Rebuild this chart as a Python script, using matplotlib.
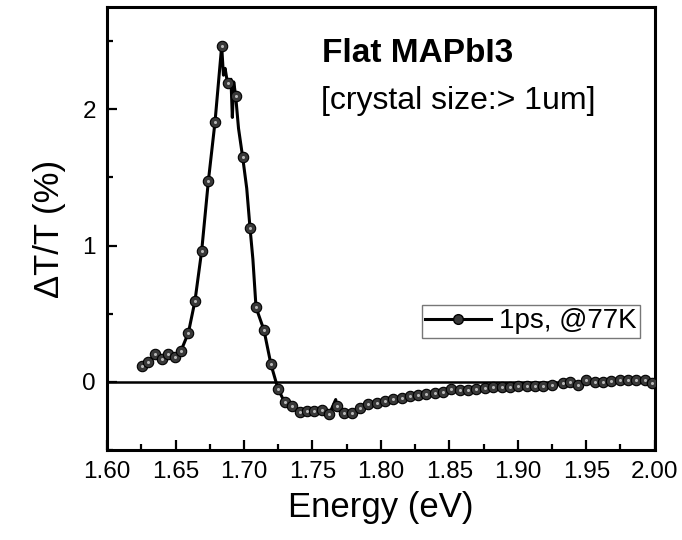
import numpy as np
import matplotlib
matplotlib.use("Agg")
import matplotlib.pyplot as plt
from matplotlib.ticker import MultipleLocator, FormatStrFormatter
from matplotlib.lines import Line2D

plt.rcParams['font.family'] = ['Liberation Sans', 'DejaVu Sans']

# marker points (energy in eV, dT/T in %)
energy_pts = [1.6253, 1.6302, 1.6350, 1.6399, 1.6448, 1.6496, 1.6540, 1.6594,
              1.6642, 1.6691, 1.6740, 1.6788, 1.6837, 1.6880, 1.6939, 1.6990,
              1.7044, 1.7088, 1.7146, 1.7197, 1.7248, 1.7297, 1.7354, 1.7409,
              1.7458, 1.7510, 1.7567, 1.7623, 1.7677, 1.7730, 1.7786, 1.7847,
              1.7908, 1.7969, 1.8029, 1.8090, 1.8151, 1.8212, 1.8272, 1.8333,
              1.8394, 1.8455, 1.8515, 1.8576, 1.8637, 1.8698, 1.8759, 1.8820,
              1.8881, 1.8942, 1.9003, 1.9064, 1.9125, 1.9186, 1.9247, 1.9331,
              1.9380, 1.9440, 1.9501, 1.9562, 1.9623, 1.9684, 1.9745, 1.9805,
              1.9866, 1.9927, 1.9983]
dT_pts = [0.117, 0.142, 0.203, 0.167, 0.201, 0.179, 0.228, 0.360,
          0.594, 0.961, 1.475, 1.903, 2.463, 2.190, 2.100, 1.651,
          1.130, 0.546, 0.379, 0.128, -0.050, -0.150, -0.180, -0.222,
          -0.213, -0.215, -0.203, -0.237, -0.178, -0.225, -0.228, -0.190,
          -0.165, -0.155, -0.140, -0.128, -0.115, -0.103, -0.095, -0.088,
          -0.080, -0.073, -0.050, -0.062, -0.058, -0.050, -0.044, -0.040,
          -0.037, -0.036, -0.034, -0.033, -0.030, -0.028, -0.025, -0.012,
          0.000, -0.020, 0.012, 0.000, 0.002, 0.007, 0.012, 0.015,
          0.017, 0.017, -0.005]

# extra points of the raw trace between markers (line only)
energy_extra = [1.6850, 1.6862, 1.6905, 1.6915, 1.6925, 1.6960, 1.7020, 1.7065, 1.7670]
dT_extra = [2.250, 2.300, 2.220, 1.940, 2.200, 1.860, 1.420, 0.900, -0.130]

fig = plt.figure(figsize=(6.82, 5.40), dpi=100)
ax = fig.add_axes([0.157, 0.1667, 0.803, 0.8203])

ax.axhline(0, color='black', lw=1.8, zorder=1)

e_line = np.array(energy_pts + energy_extra)
d_line = np.array(dT_pts + dT_extra)
order = np.argsort(e_line)
ax.plot(e_line[order], d_line[order], color='black', lw=2.2, zorder=2)
ax.plot(energy_pts, dT_pts, 'o', ms=7.5, mfc='#383838', mec='black', mew=0.8, zorder=3)
ax.plot(energy_pts, dT_pts, 'o', ms=2.2, mfc='#b8b8b8', mec='none', zorder=4)

ax.set_xlim(1.60, 2.00)
ax.set_ylim(-0.5, 2.75)
ax.xaxis.set_major_locator(MultipleLocator(0.05))
ax.xaxis.set_minor_locator(MultipleLocator(0.025))
ax.xaxis.set_major_formatter(FormatStrFormatter('%.2f'))
ax.yaxis.set_major_locator(MultipleLocator(1))
ax.yaxis.set_minor_locator(MultipleLocator(0.5))
ax.tick_params(which='both', direction='in', width=1.6, labelsize=17.5, pad=8)
ax.tick_params(which='major', length=7)
ax.tick_params(which='minor', length=4)
for sp in ax.spines.values():
    sp.set_linewidth(2.2)

ax.set_xlabel('Energy (eV)', fontsize=25, labelpad=6)
ax.set_ylabel('ΔT/T (%)', fontsize=25, labelpad=12)

ax.text(0.393, 0.876, 'Flat MAPbI3', transform=ax.transAxes, fontsize=24,
        fontweight='bold', va='baseline')
ax.text(0.390, 0.770, '[crystal size:> 1um]', transform=ax.transAxes, fontsize=23,
        va='baseline')

handle = Line2D([], [], color='black', lw=2.2, marker='o', ms=7, mfc='#383838', mec='black')
leg = ax.legend([handle], ['1ps, @77K'], loc='upper right', bbox_to_anchor=(0.973, 0.327),
                fontsize=20, frameon=True, fancybox=False, edgecolor='#555555',
                handlelength=2.35, handletextpad=0.3, borderpad=0.12, borderaxespad=0)
leg.get_frame().set_linewidth(1.0)

fig.savefig('out.png', dpi=100)
